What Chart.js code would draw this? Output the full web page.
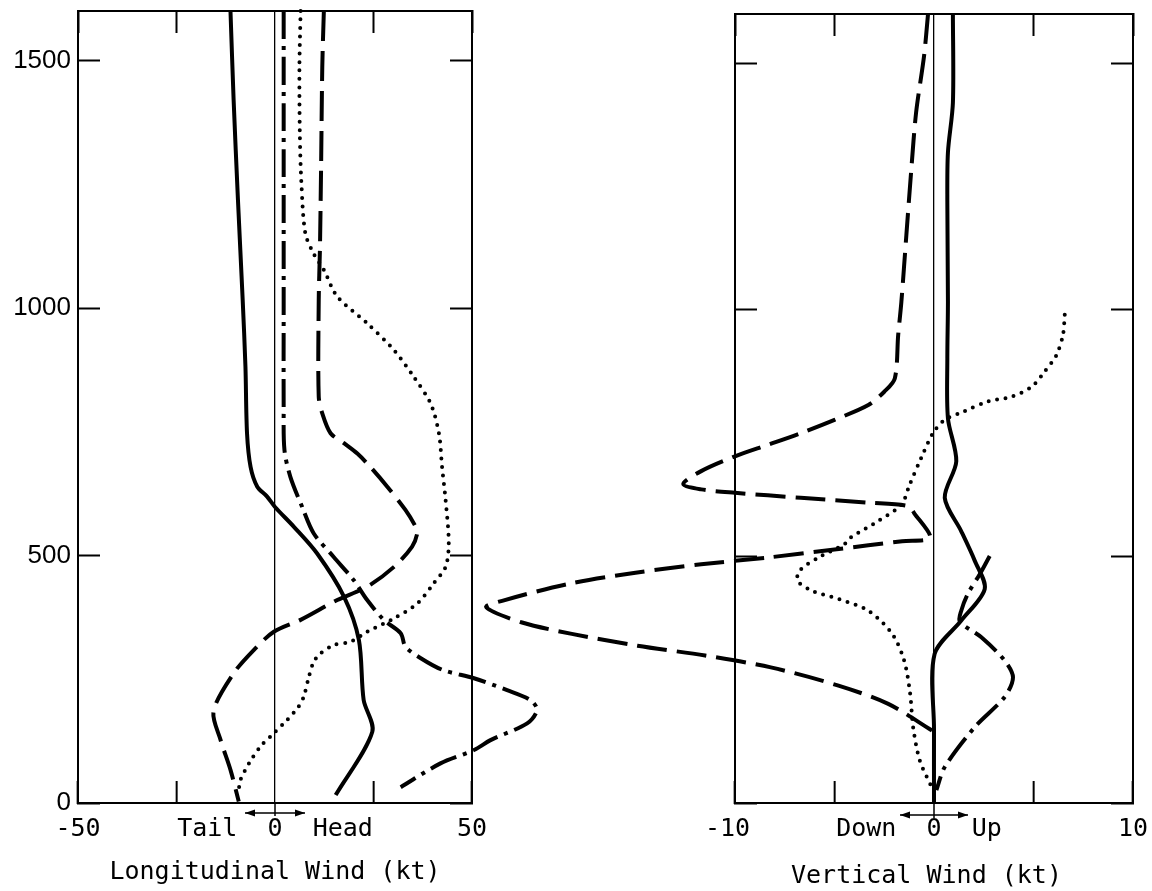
<!DOCTYPE html>
<html>
<head>
<meta charset="utf-8">
<title>Longitudinal and vertical wind profiles</title>
<script src="https://cdn.jsdelivr.net/npm/chart.js@4.4.1/dist/chart.umd.min.js"></script>
<style>
  html, body { margin: 0; padding: 0; background: #fff; }
  #wrap { position: relative; width: 1152px; height: 891px; overflow: hidden; background: #fff; }
  canvas { position: absolute; top: 0; }
  #lonChart { left: 0; }
  #vertChart { left: 440px; }
</style>
</head>
<body>
<div id="wrap">
  <canvas id="lonChart" width="640" height="891"></canvas>
  <canvas id="vertChart" width="712" height="891"></canvas>
</div>
<script>
// altitude (ft) / wind (kt) pairs for each profile

// longitudinal wind
const lonSolidAlt = [1600, 1420, 1218, 1016, 881, 747, 679, 639, 619, 598, 558, 504, 417, 329, 208, 144, 16];
const lonSolidKt  = [-11.3, -10.5, -9.4, -8.2, -7.5, -7.1, -6.2, -4.5, -2.0, 0, 4.8, 10.7, 17.5, 21.3, 22.5, 24.7, 15.4];

const lonDashAlt = [1600, 1487, 1285, 1117, 1016, 821, 787, 747, 727, 706, 679, 639, 592, 558, 545, 518, 477, 437, 410, 370, 346, 309, 262, 185, 127, 67, 3];
const lonDashKt  = [12.4, 12.0, 11.7, 11.4, 11.1, 11.1, 12.0, 14.1, 17.5, 20.9, 24.2, 28.5, 33.1, 35.7, 36.1, 34.8, 30.2, 23.4, 15.8, 6.5, -0.3, -5.4, -10.5, -15.6, -13.8, -11.3, -9.2];

const lonDashDotAlt = [1600, 1300, 1000, 800, 713, 659, 598, 545, 497, 450, 410, 370, 343, 316, 293, 269, 252, 228, 208, 188, 161, 127, 107, 80, 32];
const lonDashDotKt  = [2.2, 2.2, 2.2, 2.2, 2.4, 3.9, 6.9, 9.8, 14.9, 20.0, 23.4, 27.6, 31.9, 33.1, 36.9, 42.5, 50.5, 58.9, 64.8, 66.5, 64.0, 54.7, 50.5, 42.0, 31.9];

const lonDotAlt = [1600, 1487, 1353, 1252, 1151, 1110, 1077, 1023, 969, 915, 861, 807, 747, 679, 612, 525, 477, 444, 403, 373, 346, 326, 319, 302, 285, 255, 215, 195, 168, 141, 114, 80, 46, 26];
const lonDotKt  = [6.5, 6.2, 6.3, 6.7, 7.7, 9.8, 12.4, 15.8, 23.4, 30.2, 35.2, 39.5, 41.6, 42.4, 43.3, 44.1, 43.3, 40.3, 36.1, 30.2, 23.4, 19.2, 14.9, 11.5, 9.8, 8.6, 7.3, 6.0, 3.1, -0.3, -3.7, -6.6, -8.8, -9.2];

// vertical wind
const vertSolidAlt = [1600, 1420, 1319, 1218, 1016, 902, 780, 693, 619, 551, 491, 434, 370, 302, 150, 0];
const vertSolidKt  = [0.95, 0.95, 0.7, 0.67, 0.7, 0.67, 0.7, 1.12, 0.54, 1.37, 2.05, 2.55, 1.37, 0.03, 0, 0];

const vertDashAlt = [1600, 1515, 1400, 1285, 1151, 1016, 949, 861, 834, 807, 777, 750, 727, 703, 673, 647, 636, 629, 619, 609, 602, 588, 538, 531, 514, 498, 484, 467, 444, 410, 397, 366, 343, 319, 299, 275, 238, 201, 147];
const vertDashKt  = [-0.3, -0.5, -0.9, -1.14, -1.39, -1.64, -1.8, -1.97, -2.5, -3.3, -5.0, -6.7, -8.3, -10.0, -11.7, -12.6, -11.7, -10.0, -6.7, -3.3, -1.3, -1.0, -0.2, -1.6, -5.0, -8.3, -11.7, -15.0, -18.4, -21.7, -22.5, -20.7, -18.2, -14.9, -11.5, -8.2, -4.8, -2.3, -0.1];

const vertDashDotAlt = [501, 464, 424, 390, 368, 336, 289, 255, 215, 154, 73, 26];
const vertDashDotKt  = [2.8, 2.3, 1.7, 1.37, 1.3, 2.38, 3.55, 3.97, 3.55, 2.05, 0.54, 0.12];

const vertDotAlt = [990, 949, 908, 875, 844, 824, 814, 794, 777, 750, 700, 646, 605, 572, 538, 525, 498, 471, 450, 430, 413, 390, 343, 289, 222, 154, 87, 33];
const vertDotKt  = [6.57, 6.48, 6.15, 5.56, 4.9, 3.9, 2.7, 1.5, 0.54, -0.05, -0.64, -1.22, -1.64, -2.8, -4.2, -4.5, -5.8, -6.75, -6.85, -6.1, -4.75, -3.3, -2.1, -1.5, -1.2, -1.05, -0.72, -0.13];

// axis ticks and labels
const altTicks = [0, 500, 1000, 1500];
const altTickLabels = ['0', '500', '1000', '1500'];
const lonTicks = [-50, -25, 0, 25, 50];
const lonTickLabels = ['-50', '', 'Tail  0  Head', '', '50'];
const vertTicks = [-10, -5, 0, 5, 10];
const vertTickLabels = ['-10 ', '', 'Down  0  Up  ', '', '10'];

const monoFont = { family: "'DejaVu Sans Mono', monospace", size: 25 };
const sansFont = { family: "'Liberation Sans', Arial, sans-serif", size: 26 };

const lineStyles = {
  solid:   { borderWidth: 4, borderDash: [] },
  dash:    { borderWidth: 4, borderDash: [30, 10] },
  dashDot: { borderWidth: 4, borderDash: [28, 7, 4, 7] },
  dot:     { borderWidth: 4, borderDash: [0, 8.5], borderCapStyle: 'round' }
};

function toPoints(alt, kt) {
  return alt.map((h, i) => ({ x: kt[i], y: h }));
}

function profile(alt, kt, style) {
  return Object.assign({
    data: toPoints(alt, kt),
    showLine: true,
    clip: false,
    borderColor: '#000',
    pointRadius: 0,
    tension: 0.3
  }, lineStyles[style]);
}

// double arrow under the zero tick
const zeroArrows = {
  id: 'zeroArrows',
  afterDraw(chart, args, opts) {
    const ctx = chart.ctx;
    const x0 = chart.scales.x.getPixelForValue(0);
    const bottom = chart.chartArea.bottom;
    const y = bottom + opts.drop;
    ctx.save();
    ctx.strokeStyle = '#000';
    ctx.fillStyle = '#000';
    ctx.lineWidth = 1.5;
    ctx.beginPath();
    ctx.moveTo(x0, bottom);
    ctx.lineTo(x0, y + 3);
    ctx.moveTo(x0 - opts.half, y);
    ctx.lineTo(x0 + opts.half, y);
    ctx.stroke();
    [-1, 1].forEach(d => {
      const tip = x0 + d * opts.half;
      ctx.beginPath();
      ctx.moveTo(tip, y);
      ctx.lineTo(tip - d * 10, y - 3.5);
      ctx.lineTo(tip - d * 10, y + 3.5);
      ctx.closePath();
      ctx.fill();
    });
    ctx.restore();
  }
};

const clear = 'rgba(0,0,0,0)';
const tickVal = c => (c.tick ? c.tick.value : null);

// fixed box size, and no extra room for overhanging labels
function fixBox(prop, size) {
  return s => {
    s[prop] = size;
    s.paddingTop = s.paddingBottom = s.paddingLeft = s.paddingRight = 0;
  };
}

function panelScales(p) {
  const setX = s => { s.ticks = p.xTicks.map(v => ({ value: v })); };
  const setY = s => { s.ticks = altTicks.map(v => ({ value: v })); };
  return {
    x: {
      type: 'linear', position: 'bottom', min: p.xMin, max: p.xMax,
      afterBuildTicks: setX,
      afterFit: fixBox('height', 88),
      grid: {
        drawOnChartArea: true,
        color: c => tickVal(c) === 0 ? '#000' : clear,
        lineWidth: 1.3,
        tickLength: -22, tickWidth: 2,
        tickColor: c => tickVal(c) === 0 ? clear : '#000'
      },
      border: { color: '#000', width: 2 },
      ticks: {
        autoSkip: false, maxRotation: 0, padding: 33, font: monoFont, color: '#000',
        callback: (v, i) => p.xLabels[i]
      },
      title: { display: true, text: p.title, font: monoFont, color: '#000', padding: { top: 0, bottom: p.titlePad } }
    },
    x2: {
      type: 'linear', position: 'top', min: p.xMin, max: p.xMax,
      afterBuildTicks: setX,
      afterFit: fixBox('height', 0),
      grid: {
        drawOnChartArea: false, tickLength: -22, tickWidth: 2,
        tickColor: c => tickVal(c) === 0 ? clear : '#000'
      },
      border: { color: '#000', width: 2 },
      ticks: { display: false }
    },
    y: {
      type: 'linear', position: 'left', min: 0, max: 1600,
      afterBuildTicks: setY,
      afterFit: fixBox('width', p.leftWidth),
      grid: { drawOnChartArea: false, tickLength: -22, tickWidth: 2, tickColor: '#000' },
      border: { color: '#000', width: 2 },
      ticks: {
        display: p.yLabels, autoSkip: false, padding: 29, font: sansFont, color: '#000',
        callback: (v, i) => altTickLabels[i]
      }
    },
    y2: {
      type: 'linear', position: 'right', min: 0, max: 1600,
      afterBuildTicks: setY,
      afterFit: fixBox('width', 0),
      grid: { drawOnChartArea: false, tickLength: -22, tickWidth: 2, tickColor: '#000' },
      border: { color: '#000', width: 2 },
      ticks: { display: false }
    }
  };
}

function panelOptions(p) {
  return {
    responsive: false,
    animation: false,
    devicePixelRatio: 1,
    events: [],
    layout: { autoPadding: false, padding: { top: p.top, right: p.right, bottom: 0, left: 0 } },
    plugins: {
      legend: { display: false },
      tooltip: { enabled: false },
      zeroArrows: { half: p.arrowHalf, drop: p.arrowDrop }
    },
    elements: { line: { capBezierPoints: false, fill: false } },
    scales: panelScales(p)
  };
}

new Chart(document.getElementById('lonChart'), {
  type: 'scatter',
  data: {
    datasets: [
      profile(lonSolidAlt, lonSolidKt, 'solid'),
      profile(lonDashAlt, lonDashKt, 'dash'),
      profile(lonDashDotAlt, lonDashDotKt, 'dashDot'),
      profile(lonDotAlt, lonDotKt, 'dot')
    ]
  },
  options: panelOptions({
    xMin: -50, xMax: 50, xTicks: lonTicks, xLabels: lonTickLabels,
    title: 'Longitudinal Wind (kt)', titlePad: 4,
    leftWidth: 78, yLabels: true, top: 11, right: 168,
    arrowHalf: 30, arrowDrop: 10
  }),
  plugins: [zeroArrows]
});

new Chart(document.getElementById('vertChart'), {
  type: 'scatter',
  data: {
    datasets: [
      profile(vertSolidAlt, vertSolidKt, 'solid'),
      profile(vertDashAlt, vertDashKt, 'dash'),
      profile(vertDashDotAlt, vertDashDotKt, 'dashDot'),
      profile(vertDotAlt, vertDotKt, 'dot')
    ]
  },
  options: panelOptions({
    xMin: -10, xMax: 10, xTicks: vertTicks, xLabels: vertTickLabels,
    title: 'Vertical Wind (kt) ', titlePad: 0,
    leftWidth: 295, yLabels: false, top: 14, right: 19,
    arrowHalf: 34, arrowDrop: 12
  }),
  plugins: [zeroArrows]
});
</script>
</body>
</html>
